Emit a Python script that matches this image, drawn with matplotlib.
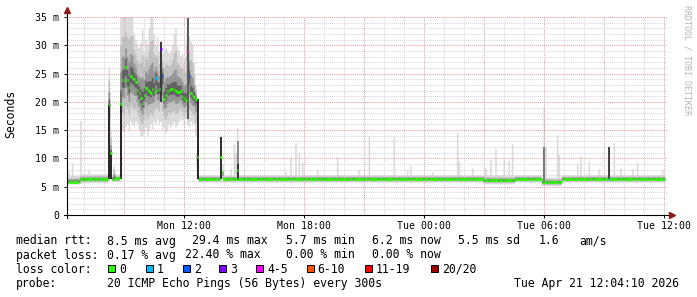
import numpy as np
import pandas as pd
import matplotlib
matplotlib.use('Agg')
import matplotlib.pyplot as plt
import matplotlib.dates as mdates
from matplotlib.patches import Rectangle

plt.rcParams['font.family'] = 'DejaVu Sans Mono'

# one value per 5 minute step (20 pings each), values in ms
step_first = '2026-04-20 06:10'
step_last = '2026-04-21 12:00'

# calm stretches: median and the smoke band around it
calm_from = ['2026-04-20 06:10', '2026-04-20 06:50', '2026-04-20 12:45', '2026-04-21 03:00',
             '2026-04-21 04:35', '2026-04-21 05:55', '2026-04-21 06:55']
calm_to = ['2026-04-20 06:45', '2026-04-20 08:10', '2026-04-21 02:55', '2026-04-21 04:30',
           '2026-04-21 05:50', '2026-04-21 06:50', '2026-04-21 12:00']
calm_median = [5.9, 6.3, 6.4, 6.1, 6.4, 5.8, 6.4]
calm_low = [5.4, 5.6, 5.7, 5.4, 5.7, 5.1, 5.7]
calm_high = [6.9, 7.2, 7.0, 7.0, 7.0, 6.6, 7.0]

# the congested morning, step by step from 08:15 to 12:40
busy_from = '2026-04-20 08:15'
busy_median = [19.4, 10.9, 6.4, 6.4, 6.5, 6.4, 6.5,
               19.6, 23.9, 23.9, 26.2, 23.9, 22.6, 24.6, 24.3, 24.0, 23.5,
               22.1, 21.5, 20.7, 19.8, 21.2, 22.4, 22.3, 22.0, 21.6, 22.3,
               21.8, 24.2, 22.1, 22.3, 29.3, 24.5, 20.5, 21.2, 22.0, 22.1,
               22.2, 22.3, 22.1, 21.9, 21.7, 21.8, 22.0, 20.9, 20.6, 20.4,
               29.0, 24.5, 21.5, 21.2, 20.8, 20.5, 10.2]
busy_high = [26.0, 15.0, 7.0, 8.8, 7.2, 7.0, 7.2,
             35.5, 35.5, 35.5, 35.5, 35.5, 35.5, 35.5, 35.5, 32.0, 31.0,
             30.0, 29.5, 30.5, 32.8, 29.0, 31.0, 30.0, 33.0, 35.5, 35.5,
             32.0, 30.0, 31.5, 29.0, 30.8, 28.5, 29.0, 29.5, 29.0, 28.5,
             29.0, 30.0, 32.0, 33.0, 29.7, 29.0, 28.0, 28.5, 27.0, 28.0,
             34.8, 31.5, 30.6, 30.0, 27.0, 23.0, 12.0]
busy_low = [6.2, 6.2, 5.8, 5.8, 5.8, 5.8, 5.8,
            6.4, 15.0, 14.5, 15.5, 16.0, 15.0, 16.5, 16.0, 15.5, 16.5,
            16.0, 15.0, 14.0, 13.8, 14.5, 15.5, 14.0, 15.0, 16.0, 15.0,
            16.5, 16.0, 17.0, 16.0, 16.5, 15.0, 15.5, 14.5, 15.0, 16.0,
            15.5, 16.0, 16.5, 15.5, 15.9, 16.5, 17.0, 16.8, 16.0, 17.0,
            16.0, 15.5, 16.5, 15.9, 16.0, 14.0, 6.2]

# single slow pings sticking out of the calm band
spike_time = ['2026-04-20 06:15', '2026-04-20 06:25', '2026-04-20 06:50', '2026-04-20 07:15',
              '2026-04-20 13:50', '2026-04-20 13:55', '2026-04-20 14:20', '2026-04-20 14:30',
              '2026-04-20 14:35', '2026-04-20 14:40', '2026-04-20 17:05', '2026-04-20 17:20',
              '2026-04-20 17:35', '2026-04-20 17:45', '2026-04-20 17:55', '2026-04-20 18:40',
              '2026-04-20 19:40', '2026-04-20 20:45', '2026-04-20 21:15', '2026-04-20 22:30',
              '2026-04-20 23:10', '2026-04-20 23:20', '2026-04-21 00:25', '2026-04-21 01:40',
              '2026-04-21 01:45', '2026-04-21 02:25', '2026-04-21 03:05', '2026-04-21 03:20',
              '2026-04-21 03:35', '2026-04-21 04:00', '2026-04-21 04:15', '2026-04-21 04:25',
              '2026-04-21 06:00', '2026-04-21 06:05', '2026-04-21 06:40', '2026-04-21 06:45',
              '2026-04-21 07:40', '2026-04-21 07:50', '2026-04-21 08:15', '2026-04-21 08:45',
              '2026-04-21 09:15', '2026-04-21 09:30', '2026-04-21 09:50', '2026-04-21 10:25',
              '2026-04-21 10:40', '2026-04-21 11:55']
spike_high = [7.7, 9.2, 16.6, 8.0,
              14.1, 9.0, 8.1, 12.5,
              11.0, 15.4, 7.6, 10.0,
              12.7, 11.0, 9.2, 8.0,
              10.2, 8.0, 14.0, 13.7,
              8.0, 8.7, 7.6, 14.6,
              9.4, 8.2, 8.2, 9.7,
              11.7, 9.8, 9.6, 12.5,
              19.0, 12.0, 14.1, 10.6,
              9.1, 10.3, 9.4, 8.0,
              12.0, 12.7, 8.2, 8.1,
              9.4, 8.0]

# medians lifted outside the busy morning
bump_time = ['2026-04-20 13:50', '2026-04-20 13:55', '2026-04-20 14:40']
bump_median = [10.3, 7.6, 8.0]

# steps where most pings sat high (dark smoke)
dense_time = ['2026-04-20 08:15', '2026-04-20 08:20', '2026-04-20 08:50', '2026-04-20 10:50',
              '2026-04-20 12:10', '2026-04-20 12:40', '2026-04-20 13:50', '2026-04-20 14:40',
              '2026-04-20 14:40', '2026-04-21 06:00', '2026-04-21 09:15']
dense_low = [6.3, 6.3, 6.4, 20.0, 17.0, 6.3, 6.3, 6.2, 6.2, 6.0, 6.3]
dense_high = [19.4, 10.9, 19.6, 30.6, 34.8, 20.5, 13.8, 13.0, 9.0, 12.0, 12.0]
dense_shade = ['#2a2a2a', '#2a2a2a', '#2a2a2a', '#3a3a3a', '#5a5a5a', '#2a2a2a',
               '#333333', '#8a8a8a', '#333333', '#7a7a7a', '#444444']

# lost pings per step
loss_time = ['2026-04-20 10:35', '2026-04-20 10:50', '2026-04-20 10:55',
             '2026-04-20 12:10', '2026-04-20 12:15', '2026-04-21 09:15']
loss_count = [1, 3, 2, 5, 2, 1]

loss_labels = ['0', '1', '2', '3', '4-5', '6-10', '11-19', '20/20']
loss_bins = [0, 1, 2, 3, 4, 6, 11, 20]
loss_colors = ['#26ff00', '#00b8ff', '#0059ff', '#7e00ff', '#ff00ff', '#ff5500', '#ff0000', '#a10000']

x_labels = ['2026-04-20 12:00', '2026-04-20 18:00', '2026-04-21 00:00', '2026-04-21 06:00', '2026-04-21 12:00']
y_labels = [0, 5, 10, 15, 20, 25, 30, 35]

legend_rows = [
    [('median rtt:', 16), ('8.5 ms avg', 107), ('29.4 ms max', 192.5), ('5.7 ms min', 286),
     ('6.2 ms now', 372), ('5.5 ms sd', 458), ('1.6', 539), ('am/s', 579)],
    [('packet loss:', 16), ('0.17 % avg', 107), ('22.40 % max', 185.5), ('0.00 % min', 286),
     ('0.00 % now', 372)],
    [('loss color:', 16)],
    [('probe:', 16), ('20 ICMP Echo Pings (56 Bytes) every 300s', 107), ('Tue Apr 21 12:04:10 2026', 514)],
]
swatch_x = [108.3, 145.7, 182.7, 219.3, 256, 306.7, 365, 430.7]


def num(s):
    return mdates.date2num(pd.Timestamp(s).to_pydatetime())


times = pd.date_range(step_first, step_last, freq='5min')
n = len(times)
med = np.zeros(n)
lo = np.zeros(n)
hi = np.zeros(n)
for a, b, m, l, h in zip(calm_from, calm_to, calm_median, calm_low, calm_high):
    sel = (times >= a) & (times <= b)
    med[sel] = m
    lo[sel] = l
    hi[sel] = h
idx = times.get_indexer(pd.date_range(busy_from, periods=len(busy_median), freq='5min'))
med[idx] = busy_median
lo[idx] = busy_low
hi[idx] = busy_high
peak = hi.copy()
idx = times.get_indexer(pd.to_datetime(spike_time))
peak[idx] = np.maximum(peak[idx], spike_high)
med[times.get_indexer(pd.to_datetime(bump_time))] = bump_median
loss = np.zeros(n, dtype=int)
loss[times.get_indexer(pd.to_datetime(loss_time))] = loss_count
bucket = np.searchsorted(loss_bins, loss, side='right') - 1

x = mdates.date2num(times.to_pydatetime())
half = 2.5 / 1440
edges = np.append(x - half, x[-1] + half)

W, H = 697, 297
fig = plt.figure(figsize=(W / 100, H / 100), dpi=100)
fig.patch.set_facecolor('white')
ax = fig.add_axes([67 / W, 82 / H, 600 / W, 198 / H])
ax.set_xlim(num('2026-04-20 06:08'), num('2026-04-21 12:08'))
ax.set_ylim(0, 35)
for s in ax.spines.values():
    s.set_visible(False)

# smoke: light outer band under the grid, darker inner bands over it
ax.stairs(peak, edges, baseline=lo, fill=True, color='#dcdcdc', lw=0, zorder=1)
for f, c in zip([0.65, 0.35, 0.15], ['#c0c0c0', '#959595', '#626262']):
    ax.stairs(med + (hi - med) * f, edges, baseline=med - (med - lo) * f,
              fill=True, color=c, lw=0, zorder=2.5)
for t, l, h, c in zip(dense_time, dense_low, dense_high, dense_shade):
    ax.bar(num(t), h - l, bottom=l, width=2.6 * half, color=c, lw=0, zorder=2.6)

# grid
for h in pd.date_range('2026-04-20 07:00', '2026-04-21 12:00', freq='1h'):
    col = '#e89a9a' if h.hour % 3 == 0 else '#d4d4d4'
    ax.axvline(num(h), color=col, lw=0.7, ls=(0, (1, 1)), zorder=2)
for v in range(1, 36):
    col = '#e89a9a' if v % 5 == 0 else '#d4d4d4'
    ax.axhline(v, color=col, lw=0.7, ls=(0, (1, 1)), zorder=2)

# median coloured by loss
ax.hlines(med, x - half, x + half, colors=[loss_colors[k] for k in bucket],
          lw=2.2, capstyle='butt', zorder=4)

# axes with arrows
ax.plot([-3 / 600, 604 / 600], [0, 0], transform=ax.transAxes, color='#000000',
        lw=0.8, clip_on=False, zorder=5)
ax.plot([0, 0], [-3 / 198, 203 / 198], transform=ax.transAxes, color='#000000',
        lw=0.8, clip_on=False, zorder=5)
ax.plot([605 / 600], [0], marker='>', ms=4, color='#8b1a1a', transform=ax.transAxes,
        clip_on=False, zorder=6)
ax.plot([0], [205 / 198], marker='^', ms=4, color='#8b1a1a', transform=ax.transAxes,
        clip_on=False, zorder=6)

ax.set_xticks([num(s) for s in x_labels])
ax.xaxis.set_major_formatter(mdates.DateFormatter('%a %H:%M'))
ax.set_yticks(y_labels)
ax.set_yticklabels(['0' if v == 0 else '%d m' % v for v in y_labels])
ax.tick_params(axis='both', labelsize=7.1, length=2, width=0.7, color='#000000', pad=2)
ax.tick_params(axis='y', pad=3.5)

fig.text(11 / W, 1 - 114 / H, 'Seconds', rotation=90, ha='center', va='center', fontsize=8.3)
fig.text(687 / W, 1 - 60 / H, 'RRDTOOL / TOBI OETIKER', rotation=270, ha='center',
         va='center', fontsize=6, color='#b4b4b4')

# legend block
baselines = [244.5, 258.5, 272.7, 287]
for row, yb in zip(legend_rows, baselines):
    for txt, xp in row:
        fig.text(xp / W, 1 - yb / H, txt, fontsize=8.3, va='baseline', ha='left')
for xs, lab, col in zip(swatch_x, loss_labels, loss_colors):
    fig.patches.append(Rectangle((xs / W, 1 - 272 / H), 7 / W, 7 / H, transform=fig.transFigure,
                                 facecolor=col, edgecolor='#000000', lw=0.7))
    fig.text((xs + 11) / W, 1 - 272.7 / H, lab, fontsize=8.3, va='baseline', ha='left')

fig.savefig('out.png', dpi=100, facecolor='white')
